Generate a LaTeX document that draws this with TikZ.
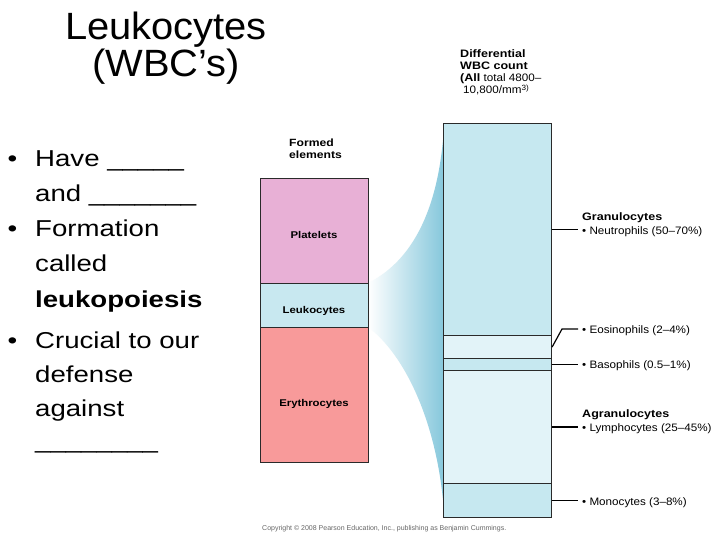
\documentclass[tikz,border=0pt]{standalone}
\usepackage{fontspec}
\setmainfont{Liberation Sans}
\newfontfamily\bulfont[FakeStretch=1.2]{Liberation Sans}
\newfontfamily\titfont[FakeStretch=1.05]{Liberation Sans}
\newfontfamily\labfont[FakeStretch=1.08,BoldFeatures={FakeStretch=1.16}]{Liberation Sans}
\definecolor{pltc}{RGB}{232,176,214}
\definecolor{leuc}{RGB}{200,232,240}
\definecolor{eryc}{RGB}{248,154,154}
\definecolor{wbcc}{RGB}{198,232,240}
\definecolor{wbclt}{RGB}{226,243,248}
\definecolor{fanblue}{RGB}{135,200,220}
\definecolor{edge}{RGB}{42,42,42}
\begin{document}
\begin{tikzpicture}[x=1pt,y=-1pt,
  cell/.style={rectangle, draw=edge, line width=1.1pt, inner sep=0pt, anchor=north west, minimum width=108pt},
  btxt/.style={anchor=base west, inner sep=0pt, font=\bulfont\fontsize{23}{28}\selectfont},
  bdot/.style={anchor=base, inner sep=0pt, font=\bulfont\fontsize{23}{28}\selectfont},
  ttxt/.style={anchor=base, inner sep=0pt, font=\titfont\fontsize{38}{44}\selectfont},
  ctxt/.style={anchor=base, inner sep=0pt, font=\labfont\bfseries\fontsize{9.8}{11}\selectfont},
  lbl/.style={anchor=base west, inner sep=0pt, font=\labfont\fontsize{10.8}{13}\selectfont},
  leader/.style={draw=black, line width=1.2pt, shorten >=4pt}]
\useasboundingbox (0,0) rectangle (720,540);
\fill[white] (0,0) rectangle (720,540);

% fan
\shade[left color=white, right color=fanblue]
  (368,283) .. controls (410,262) and (436,215) .. (443,140)
  -- (443,500) .. controls (435,420) and (405,355) .. (368,327) -- cycle;

% formed elements column
\node[cell, fill=pltc, minimum height=105pt] (plt) at (260,178) {};
\node[cell, fill=leuc, minimum height=44pt] (leu) at (260,283) {};
\node[cell, fill=eryc, minimum height=135pt] (ery) at (260,327) {};
\node[ctxt] (pltt) at (314,239) {Platelets};
\node[ctxt] (leut) at (314,313) {Leukocytes};
\node[ctxt] (eryt) at (314,406) {Erythrocytes};
\node[lbl, font=\labfont\bfseries\fontsize{10.5}{12}\selectfont] (fe1) at (289,147) {Formed};
\node[lbl, font=\labfont\bfseries\fontsize{10.5}{12}\selectfont] (fe2) at (289,159) {elements};

% WBC column
\node[cell, fill=wbcc, minimum height=212pt] (neut) at (443,123) {};
\node[cell, fill=wbclt, minimum height=23pt] (eos) at (443,335) {};
\node[cell, fill=wbcc, minimum height=12pt] (baso) at (443,358) {};
\node[cell, fill=wbclt, minimum height=113pt] (lym) at (443,370) {};
\node[cell, fill=wbcc, minimum height=34pt] (mono) at (443,483) {};

\node[lbl, font=\labfont\bfseries\fontsize{10.8}{13}\selectfont] (d1) at (460,58) {Differential};
\node[lbl, font=\labfont\bfseries\fontsize{10.8}{13}\selectfont] (d2) at (460,70) {WBC count};
\node[lbl] (d3) at (460,82) {\textbf{(All} total 4800–};
\node[lbl] (d4) at (463,94) {10,800/mm\textsuperscript{3)}};

% right labels
\node[lbl, font=\labfont\bfseries\fontsize{10.8}{13}\selectfont] (gran) at (582,221) {Granulocytes};
\node[lbl] (neutl) at (582,234) {• Neutrophils (50–70\%)};
\node[lbl] (eosl) at (582,333) {• Eosinophils (2–4\%)};
\node[lbl] (basl) at (582,368) {• Basophils (0.5–1\%)};
\node[lbl, font=\labfont\bfseries\fontsize{10.8}{13}\selectfont] (agr) at (582,417) {Agranulocytes};
\node[lbl] (lyml) at (582,431) {• Lymphocytes (25–45\%)};
\node[lbl] (monl) at (582,505) {• Monocytes (3–8\%)};

\coordinate (ek) at (562,329);
\draw[leader] (neut.east) -- (neut.east -| neutl.west);
\draw[leader] (eos.east) -- (ek) -- (ek -| eosl.west);
\draw[leader] (baso.east) -- (baso.east -| basl.west);
\draw[leader] (lym.east) -- (lym.east -| lyml.west);
\draw[leader] (mono.east) -- (mono.east -| monl.west);

% title
\node[ttxt] (t1) at (166,40) {Leukocytes};
\node[ttxt] (t2) at (166,77) {(WBC’s)};

% bullets
\node[bdot] (p1) at (12.5,167) {•};
\node[btxt] (b1a) at (35,167) {Have \_\_\_\_\_};
\node[btxt] (b1b) at (35,201.7) {and \_\_\_\_\_\_\_};
\node[bdot] (p2) at (12.5,236.7) {•};
\node[btxt] (b2a) at (35,236.7) {Formation};
\node[btxt] (b2b) at (35,271.5) {called};
\node[btxt] (b2c) at (35,307) {\textbf{leukopoiesis}};
\node[bdot] (p3) at (12.5,348) {•};
\node[btxt] (b3a) at (35,348) {Crucial to our};
\node[btxt] (b3b) at (35,382) {defense};
\node[btxt] (b3c) at (35,416.5) {against};
\node[btxt] (b3d) at (35,448) {\_\_\_\_\_\_\_\_};

% copyright
\node[anchor=base west, inner sep=0pt, text=black!60, font=\fontsize{7}{8}\selectfont] (copy) at (262,530) {Copyright © 2008 Pearson Education, Inc., publishing as Benjamin Cummings.};
\end{tikzpicture}
\end{document}
